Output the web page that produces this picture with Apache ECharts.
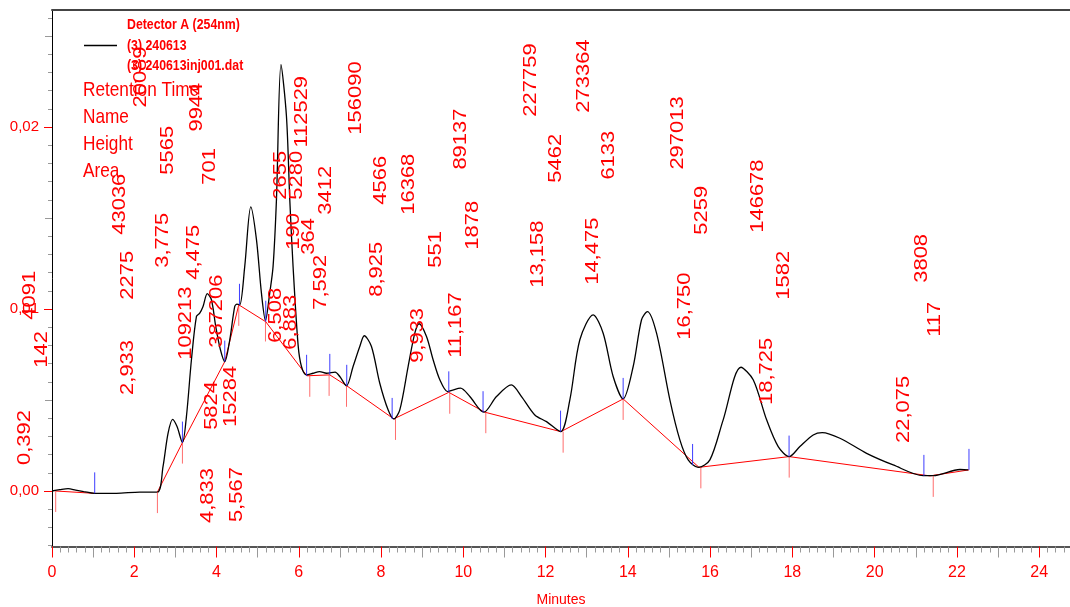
<!DOCTYPE html>
<html>
<head>
<meta charset="utf-8">
<script src="https://cdn.jsdelivr.net/npm/echarts@6/dist/echarts.min.js"></script>
<style>
  html, body { margin: 0; padding: 0; background: #fff; }
  #chart { width: 1070px; height: 607px; }
</style>
</head>
<body>
<div id="chart"></div>
<script>
// Detector A (254nm) trace: time in minutes, signal in AU
const traceMin = [0, 0.187, 0.392, 0.576, 0.771, 1.038, 1.566, 2.133, 2.563, 2.699, 2.821, 2.933, 3.040, 3.171, 3.268, 3.390, 3.512, 3.592, 3.672, 3.775, 3.876, 3.981, 4.095, 4.200, 4.322, 4.443, 4.499, 4.565, 4.686, 4.833, 4.971, 5.092, 5.190, 5.294, 5.375, 5.457, 5.567, 5.700, 5.781, 5.861, 5.983, 6.065, 6.187, 6.347, 6.508, 6.673, 6.883, 6.997, 7.160, 7.320, 7.483, 7.592, 7.767, 7.969, 8.171, 8.310, 8.456, 8.658, 8.821, 8.925, 9.105, 9.266, 9.429, 9.616, 9.720, 9.933, 10.158, 10.498, 10.807, 11.167, 11.415, 11.739, 12.023, 12.364, 12.590, 12.833, 13.158, 13.400, 13.643, 13.886, 14.130, 14.333, 14.475, 14.698, 15.022, 15.265, 15.467, 15.710, 15.995, 16.318, 16.750, 17.048, 17.374, 17.656, 17.923, 18.183, 18.507, 18.725, 19.156, 19.805, 20.452, 21.182, 21.425, 22.075, 22.276];
const traceAU = [0, 0.00007, 0.00013, 0.00005, -0.00003, -0.00013, -0.00013, -0.00006, -0.00006, 0.00134, 0.00317, 0.00394, 0.00354, 0.00266, 0.00409, 0.00721, 0.00959, 0.00977, 0.01014, 0.01084, 0.01051, 0.00904, 0.00776, 0.00711, 0.00831, 0.01014, 0.01027, 0.01023, 0.01234, 0.01561, 0.01381, 0.01087, 0.00937, 0.01089, 0.01234, 0.01601, 0.02343, 0.02059, 0.01601, 0.01234, 0.00803, 0.00684, 0.00638, 0.00647, 0.00656, 0.00647, 0.00653, 0.00629, 0.00578, 0.00684, 0.00794, 0.00853, 0.00794, 0.00592, 0.00446, 0.00396, 0.00446, 0.00684, 0.00867, 0.00919, 0.00849, 0.00721, 0.00611, 0.00546, 0.00553, 0.00565, 0.00519, 0.00433, 0.00519, 0.00583, 0.00519, 0.00418, 0.00381, 0.00326, 0.00501, 0.00831, 0.00968, 0.00867, 0.00629, 0.00506, 0.00684, 0.00941, 0.00986, 0.00867, 0.00501, 0.00281, 0.00171, 0.0013, 0.00171, 0.00391, 0.0068, 0.00611, 0.00391, 0.00244, 0.00189, 0.00244, 0.00308, 0.00321, 0.0029, 0.00207, 0.00143, 0.00084, 0.00084, 0.00118, 0.00116];

// Integration baseline, drawn as separate segments [min, AU]
const baselineSegments = [
  [[0.09, 0], [1.038, -0.00013]],
  [[2.563, -0.00006], [3.171, 0.00266], [4.200, 0.00711], [4.541, 0.01023], [5.197, 0.0093], [6.196, 0.00633], [6.754, 0.00638], [7.166, 0.00578], [8.310, 0.00396], [9.647, 0.00542], [10.523, 0.00433], [12.372, 0.00326], [13.886, 0.00506], [15.73, 0.0013], [17.92, 0.00189], [21.345, 0.00083], [22.294, 0.00116]]
];

// Peak start marks (drawn downward) and peak end marks (drawn upward)
const peakStartMin = [0.09, 2.563, 3.171, 4.541, 5.19, 6.267, 6.737, 7.16, 8.351, 9.67, 10.547, 12.427, 13.886, 15.775, 17.923, 21.425];
const peakStartAU  = [0, -0.00006, 0.00266, 0.01023, 0.00937, 0.00633, 0.00638, 0.00578, 0.00396, 0.0054, 0.00433, 0.00326, 0.00506, 0.0013, 0.00189, 0.00083];
const peakEndMin = [1.038, 3.171, 4.2, 4.558, 5.197, 6.19, 6.754, 7.166, 8.27, 9.647, 10.48, 12.364, 13.886, 15.574, 17.92, 21.198, 22.294];
const peakEndAU  = [-0.00013, 0.00266, 0.00711, 0.01023, 0.0093, 0.00633, 0.00638, 0.00578, 0.00396, 0.00542, 0.00433, 0.00326, 0.00506, 0.00143, 0.00189, 0.00083, 0.00116];

// Peak table
const peakRT     = [0.392, 2.933, 3.775, 4.475, 4.833, 5.567, 6.508, 6.883, 7.592, 8.925, 9.933, 11.167, 13.158, 14.475, 16.750, 18.725, 22.075];
const peakHeight = [142, 2275, 5565, 701, 5824, 15284, 190, 364, 3412, 4566, 551, 1878, 5462, 6133, 5259, 1582, 117];
const peakArea   = [4091, 43036, 109213, 9944, 20089, 387206, 2655, 5280, 112529, 156090, 16368, 89137, 227759, 273364, 297013, 146678, 3808];

// Where each peak's annotation text starts [min, AU]
const rtLabelAt = [[-0.664, 0.00143], [1.841, 0.00528], [2.692, 0.01227], [3.446, 0.01161], [3.786, -0.00176], [4.492, -0.00171], [5.440, 0.00814], [5.805, 0.00776], [6.534, 0.00996], [7.896, 0.01067], [8.893, 0.00704], [9.817, 0.00732], [11.811, 0.01117], [13.149, 0.01133], [15.386, 0.00831], [17.380, 0.00473], [20.712, 0.00264]];
const heightLabelAt = [[-0.250, 0.00677], [1.841, 0.01051], [2.814, 0.01738], [3.835, 0.01683], [3.883, 0.00336], [4.346, 0.00352], [5.878, 0.01326], [6.243, 0.01298], [6.656, 0.01518], [7.993, 0.01573], [9.331, 0.01227], [10.231, 0.01326], [12.250, 0.01694], [13.539, 0.01711], [15.800, 0.01408], [17.794, 0.01051], [21.466, 0.00847]];
const areaLabelAt = [[-0.542, 0.00941], [1.646, 0.01408], [3.251, 0.00721], [3.519, 0.01975], [2.157, 0.02107], [4.005, 0.00787], [5.562, 0.01601], [5.951, 0.01601], [6.073, 0.01887], [7.385, 0.01958], [8.674, 0.01518], [9.939, 0.01766], [11.642, 0.02057], [12.931, 0.02079], [15.217, 0.01766], [17.163, 0.01419], [21.150, 0.01144]];

// Axis ticks
const xTickLabels = [0, 2, 4, 6, 8, 10, 12, 14, 16, 18, 20, 22, 24];
const yTickLabels = [0, 0.01, 0.02];

const X_MAX = 24.75;
const Y_MIN = -0.00305;
const Y_MAX = 0.02643;
const RED = '#ff0000';
const NARROW = '"Liberation Sans Narrow", "Arial Narrow", "Liberation Sans", sans-serif';

function fmtComma(v, d) { return v.toFixed(d).replace('.', ','); }

const xMinor = [], xMid = [];
for (let i = 0; i <= Math.round(X_MAX * 5); i++) {
  const v = +(i / 5).toFixed(1);
  if (Math.abs(v - Math.round(v)) > 1e-6) xMinor.push(v);
  else if (Math.round(v) % 2 === 1) xMid.push(v);
}
const yMinor = [], yMid = [];
for (let k = -3; k <= 26; k++) {
  if (k % 5 !== 0) yMinor.push(k / 1000);
  else if (k % 10 !== 0) yMid.push(k / 1000);
}

const traceData = traceMin.map((t, i) => [t, traceAU[i]]);
const tickData = peakStartMin.map((t, i) => [t, peakStartAU[i], -1])
  .concat(peakEndMin.map((t, i) => [t, peakEndAU[i], 1]));

const labelTexts = [], labelData = [];
peakRT.forEach((rt, i) => {
  labelTexts.push(fmtComma(rt, 3)); labelData.push(rtLabelAt[i]);
  labelTexts.push(String(peakHeight[i])); labelData.push(heightLabelAt[i]);
  labelTexts.push(String(peakArea[i])); labelData.push(areaLabelAt[i]);
});

const plainAxis = (extra) => Object.assign({
  type: 'value', min: 0, max: X_MAX, position: 'bottom',
  axisLine: { show: false, onZero: false }, axisLabel: { show: false }, splitLine: { show: false }
}, extra);
const plainY = (extra) => Object.assign({
  type: 'value', min: Y_MIN, max: Y_MAX, position: 'left',
  axisLine: { show: false, onZero: false }, axisLabel: { show: false }, splitLine: { show: false }
}, extra);

const chart = echarts.init(document.getElementById('chart'), null, { renderer: 'canvas' });

chart.setOption({
  animation: false,
  backgroundColor: '#ffffff',
  grid: { left: 52, right: 0, top: 10, bottom: 60.5, containLabel: false, outerBoundsMode: 'none' },
  xAxis: [
    {
      type: 'value', min: 0, max: X_MAX, position: 'bottom',
      axisLine: { show: true, onZero: false, lineStyle: { color: '#555', width: 2 } },
      axisTick: { show: true, customValues: xTickLabels, length: 11, lineStyle: { color: RED } },
      axisLabel: { customValues: xTickLabels, color: RED, fontFamily: NARROW, fontSize: 16, margin: 18 },
      splitLine: { show: false },
      name: 'Minutes', nameLocation: 'middle', nameGap: 47,
      nameTextStyle: { color: RED, fontFamily: NARROW, fontSize: 14 }
    },
    plainAxis({ axisTick: { show: true, customValues: xMinor, length: 6, lineStyle: { color: '#999' } } }),
    plainAxis({ axisTick: { show: true, customValues: xMid, length: 11, lineStyle: { color: '#999' } } }),
    plainAxis({ position: 'top', axisLine: { show: true, onZero: false, lineStyle: { color: '#444', width: 2 } }, axisTick: { show: false } })
  ],
  yAxis: [
    {
      type: 'value', min: Y_MIN, max: Y_MAX, position: 'left',
      axisLine: { show: true, onZero: false, lineStyle: { color: '#000', width: 1 } },
      axisTick: { show: true, customValues: yTickLabels, length: 8, lineStyle: { color: RED } },
      axisLabel: { customValues: yTickLabels, color: RED, fontFamily: NARROW, fontSize: 15, margin: 13,
        formatter: (v) => fmtComma(v, 2) },
      splitLine: { show: false }
    },
    plainY({ axisTick: { show: true, customValues: yMinor, length: 4, lineStyle: { color: '#999' } } }),
    plainY({ axisTick: { show: true, customValues: yMid, length: 7, lineStyle: { color: '#999' } } })
  ],
  graphic: {
    elements: [
      { type: 'line', shape: { x1: 84, y1: 45.5, x2: 117, y2: 45.5 }, style: { stroke: '#000', lineWidth: 1.5 } },
      { type: 'text', x: 127, y: 25, scaleX: 0.82, style: { text: 'Detector A (254nm)', fill: RED, font: 'bold 15px "Liberation Sans"', textVerticalAlign: 'middle' } },
      { type: 'text', x: 127, y: 45.5, scaleX: 0.82, style: { text: '(3) 240613', fill: RED, font: 'bold 15px "Liberation Sans"', textVerticalAlign: 'middle' } },
      { type: 'text', x: 127, y: 66, scaleX: 0.82, style: { text: '(3) 240613inj001.dat', fill: RED, font: 'bold 15px "Liberation Sans"', textVerticalAlign: 'middle' } },
      { type: 'text', x: 83, y: 90, scaleX: 0.82, style: { text: 'Retention Time', fill: RED, font: '21px "Liberation Sans"', textVerticalAlign: 'middle' } },
      { type: 'text', x: 83, y: 117, scaleX: 0.82, style: { text: 'Name', fill: RED, font: '21px "Liberation Sans"', textVerticalAlign: 'middle' } },
      { type: 'text', x: 83, y: 144, scaleX: 0.82, style: { text: 'Height', fill: RED, font: '21px "Liberation Sans"', textVerticalAlign: 'middle' } },
      { type: 'text', x: 83, y: 171, scaleX: 0.82, style: { text: 'Area', fill: RED, font: '21px "Liberation Sans"', textVerticalAlign: 'middle' } }
    ]
  },
  series: [
    {
      name: '(3) 240613', type: 'line', data: traceData,
      xAxisIndex: 0, yAxisIndex: 0,
      showSymbol: false, smooth: 0.3,
      lineStyle: { color: '#000', width: 1.3 }, z: 3
    },
    ...baselineSegments.map((seg) => ({
      type: 'line', data: seg, xAxisIndex: 0, yAxisIndex: 0,
      showSymbol: false, lineStyle: { color: RED, width: 1 }, z: 2
    })),
    {
      type: 'custom', xAxisIndex: 0, yAxisIndex: 0, data: tickData, clip: false, z: 4,
      renderItem: (params, api) => {
        const p = api.coord([api.value(0), api.value(1)]);
        const up = api.value(2) > 0;
        return {
          type: 'line',
          shape: { x1: p[0], y1: p[1], x2: p[0], y2: p[1] + (up ? -21 : 21) },
          style: { stroke: up ? 'rgba(40,40,255,0.9)' : 'rgba(255,60,60,0.75)', lineWidth: 1 }
        };
      }
    },
    {
      type: 'custom', xAxisIndex: 0, yAxisIndex: 0, data: labelData, clip: false, z: 5,
      renderItem: (params, api) => {
        const p = api.coord([api.value(0), api.value(1)]);
        return {
          type: 'text', x: p[0], y: p[1], rotation: Math.PI / 2, scaleX: 1.22,
          style: { text: labelTexts[params.dataIndex], fill: RED, font: '18px "Liberation Sans"',
            textAlign: 'left', textVerticalAlign: 'middle' }
        };
      }
    }
  ]
});
</script>
</body>
</html>
